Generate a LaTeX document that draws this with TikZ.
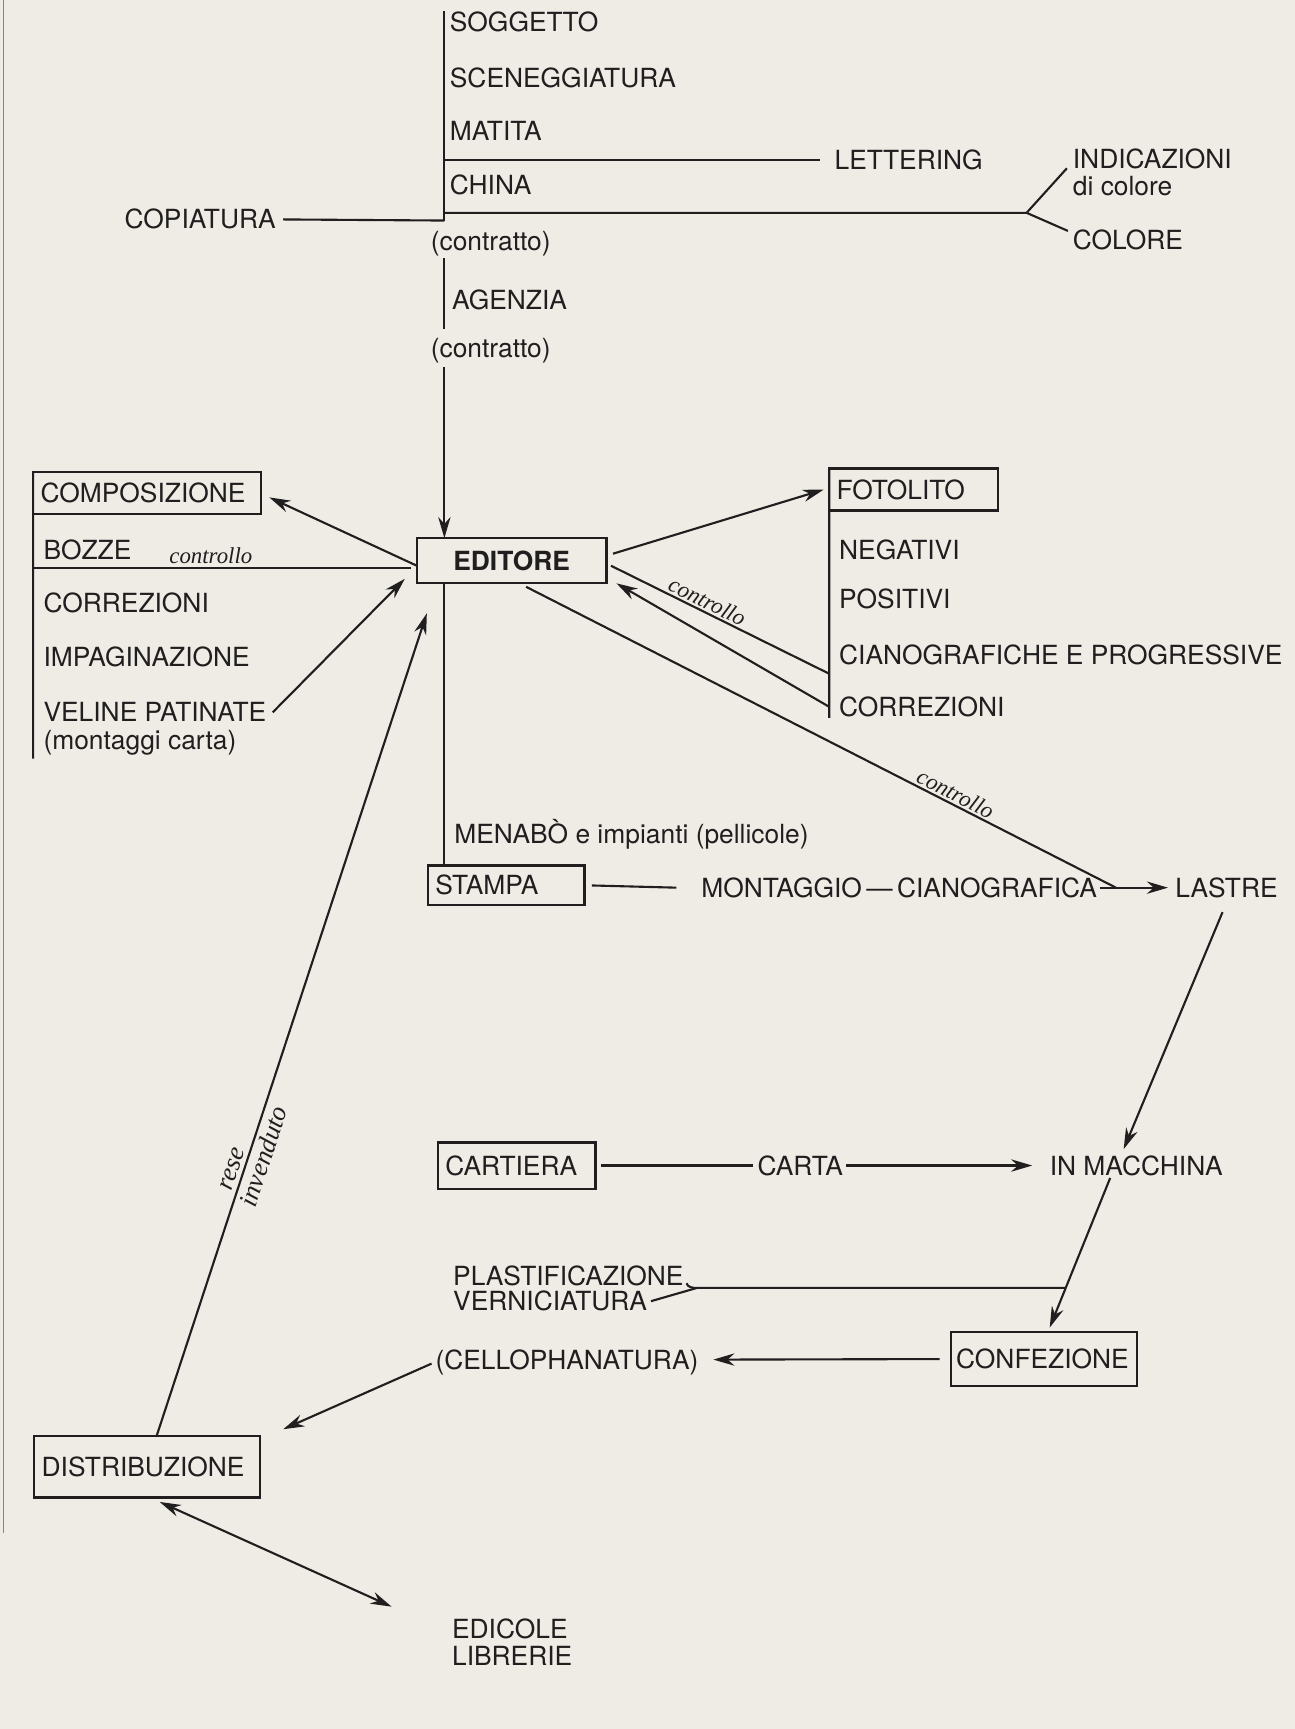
\documentclass[tikz,border=0pt]{standalone}
\usepackage{fontspec}
\setmainfont{TeX Gyre Heros}
\newfontfamily\handfont{Liberation Serif}
\usetikzlibrary{arrows.meta, calc}
\definecolor{paper}{RGB}{239,236,230}
\definecolor{ink}{RGB}{32,30,30}
\newcommand{\px}{0.022044cm}
\tikzset{
    every picture/.style = {
        > = {Stealth[length=12pt, width=7pt]},
        line width = 1.2pt,
        color = ink
    },
    every node/.style = {
        font = \fontsize{15}{18}\selectfont
    },
    lbl/.style = {
        inner sep = 0pt,
        outer sep = 0pt,
        anchor = west,
        text height = 10.77pt,
        text depth = 0pt
    },
    box/.style = {
        draw,
        line width = 1.3pt,
        inner xsep = 0.15cm,
        inner ysep = 0pt,
        outer sep = 0pt,
        align = left,
        text height = 10.77pt,
        text depth = 0pt
    },
    hand/.style = {
        font = \handfont\itshape\fontsize{13}{15}\selectfont,
        inner sep = 1pt
    },
    bighand/.style = {
        hand,
        font = \handfont\itshape\fontsize{15}{17}\selectfont
    }
}

\begin{document}
\begin{tikzpicture}[x=\px, y=-\px]
    \useasboundingbox (0,0) rectangle (1174,1568);
    \fill[paper] (0,0) rectangle (1174,1568);
    \draw[line width=0.5pt, ink!55] (3,0) -- (3,1390);

    % top column
    \foreach \name/\yy/\txt in {soggetto/20/SOGGETTO, sceneggiatura/71/SCENEGGIATURA,
                               matita/119/MATITA, china/168/CHINA} {
        \node[lbl] (\name) at (408,\yy) {\txt};
    }
    \node[lbl] (lettering) at (757,145) {LETTERING};
    \node[lbl] (indicazioni) at (973,144) {INDICAZIONI};
    \node[lbl] (dicolore) at (973,169) {di colore};
    \node[lbl] (colore) at (973,218) {COLORE};
    \node[lbl, anchor=east] (copiatura) at (250,199) {COPIATURA};
    \node[lbl, anchor=center] (contratto1) at (445,219) {(contratto)};
    \node[lbl] (agenzia) at (410,272) {AGENZIA};
    \node[lbl, anchor=center] (contratto2) at (445,316) {(contratto)};

    \coordinate (spine) at (403,10);
    \coordinate (spineA) at (403,200);
    \coordinate (spineB) at (403,234);
    \coordinate (spineC) at (403,298);
    \coordinate (spineD) at (403,333);
    \coordinate (fork) at (931,193);

    \node[box, align=center, text width=3.492cm, minimum height=0.904cm,
          font=\fontsize{15}{18}\selectfont\bfseries] (editore) at (464,508.5) {EDITORE};

    \draw (spine) -- (spineA);
    \draw (spineB) -- (spineC);
    \draw[->] (spineD) -- (spineD |- editore.north);
    \draw[shorten >=0.29cm] (spine |- lettering.west) -- (lettering.west);
    \draw (spine |- fork) -- (fork) -- ([xshift=-0.12cm]indicazioni.south west);
    \draw (fork) -- ([xshift=-0.1cm]colore.north west);
    \draw ([xshift=0.15cm]copiatura.east) -- (spineA);

    % left column
    \node[box, text width=4.263cm, minimum height=0.838cm] (composizione) at (133.5,447) {COMPOSIZIONE};
    \foreach \name/\yy/\txt in {bozze/499/BOZZE, correzioni/547/CORREZIONI,
                               impaginazione/596/IMPAGINAZIONE, veline/646/VELINE PATINATE,
                               montaggi/671/(montaggi carta)} {
        \node[lbl] (\name) at (39.5,\yy) {\txt};
    }
    \coordinate (bracketL) at (30,688);
    \coordinate (bozzeline) at (30,515);
    \coordinate (bozzeend) at (373,515);
    \draw (composizione.north west) -- (bracketL);
    \draw (bozzeline) -- node[hand, pos=0.47, above=1pt] (ctlbozze) {controllo} (bozzeend);
    \draw[->] ([yshift=-0.1cm]editore.west) -- ([shift={(0.16cm,-0.09cm)}]composizione.east);
    \draw[->] ([xshift=0.13cm]veline.east) -- ([shift={(-0.24cm,0.09cm)}]editore.south west);

    % fotolito
    \node[box, text width=3.073cm, minimum height=0.838cm] (fotolito) at (828.5,444) {FOTOLITO};
    \foreach \name/\yy/\txt in {negativi/499/NEGATIVI, positivi/543/POSITIVI,
                               ciano/594/CIANOGRAFICHE E PROGRESSIVE,
                               correzionifoto/641/CORREZIONI} {
        \node[lbl] (\name) at (761,\yy) {\txt};
    }
    \coordinate (brk) at (752,651);
    \coordinate (ctlend) at (752,611);
    \draw (fotolito.north west) -- (brk);
    \draw[->] ([shift={(0.13cm,0.14cm)}]editore.east) -- ([xshift=-0.11cm]fotolito.west);
    \draw ([shift={(0.09cm,-0.1cm)}]editore.east) -- node[hand, sloped, above, pos=0.42] (ctlfoto) {controllo} (ctlend);
    \draw[->] (brk |- correzionifoto.west) -- ([xshift=0.2cm]editore.south east);

    % stampa
    \node[lbl] (menabo) at (412,756) {MENABÒ e impianti (pellicole)};
    \node[box, text width=2.83cm, minimum height=0.794cm] (stampa) at (459,803) {STAMPA};
    \node[lbl] (montaggio) at (636,805) {MONTAGGIO\,—\,CIANOGRAFICA};
    \node[lbl] (lastre) at (1066,805) {LASTRE};
    \coordinate (mj) at (1012,805);
    \draw (editore.south -| spine) -- (stampa.north -| spine);
    \draw ([xshift=0.15cm]stampa.east) -- ([xshift=-0.5cm]montaggio.west);
    \draw[->] ([xshift=0.05cm]montaggio.east) -- ([xshift=-0.15cm]lastre.west);
    \draw ([shift={(0.29cm,-0.07cm)}]editore.south) -- node[hand, sloped, above, pos=0.72] (ctllastre) {controllo} (mj);

    % carta, macchina, confezione
    \node[box, text width=2.852cm, minimum height=0.926cm] (cartiera) at (468.5,1057) {CARTIERA};
    \node[lbl] (carta) at (687,1057) {CARTA};
    \node[lbl] (inmacchina) at (952,1057) {IN MACCHINA};
    \node[box, text width=3.5cm, inner xsep=0.11cm, minimum height=1.08cm] (confezione) at (946.5,1232.5) {CONFEZIONE};
    \node[lbl] (plastif) at (411,1157) {PLASTIFICAZIONE};
    \node[lbl] (vernic) at (411,1180) {VERNICIATURA};
    \node[lbl] (cello) at (395,1233) {(CELLOPHANATURA)};
    \draw[->] ([shift={(-0.08cm,-0.3cm)}]lastre.south) -- ([shift={(-0.25cm,0.14cm)}]inmacchina.north);
    \draw ([xshift=0.11cm]cartiera.east) -- ([xshift=-0.09cm]carta.west);
    \draw[->] ([xshift=0.07cm]carta.east) -- ([xshift=-0.35cm]inmacchina.west);
    \draw[->] ([shift={(-0.52cm,-0.06cm)}]inmacchina.south) -- coordinate[pos=0.735] (pj) ([shift={(0.12cm,0.09cm)}]confezione.north);
    \coordinate (pv) at (632,1168);
    \draw (pv) -- (pj);
    \draw ([shift={(0.06cm,0.04cm)}]plastif.south east) to[out=-70, in=180] (pv);
    \draw ([xshift=0.08cm]vernic.east) -- (pv);
    \draw[->] ([xshift=-0.22cm]confezione.west) -- ([xshift=0.3cm]cello.east);

    % distribuzione
    \node[box, text width=4.219cm, minimum height=1.234cm] (distribuzione) at (133.5,1330) {DISTRIBUZIONE};
    \node[lbl] (edicole) at (410,1477) {EDICOLE};
    \node[lbl] (librerie) at (410,1502) {LIBRERIE};
    \draw[->] ([xshift=-0.08cm, yshift=-0.08cm]cello.west) -- ([shift={(0.46cm,0.13cm)}]distribuzione.north east);
    \draw[<->] ([shift={(0.25cm,-0.09cm)}]distribuzione.south) -- ([shift={(-1.21cm,0.44cm)}]edicole.west);
    \draw[->] ([xshift=0.19cm]distribuzione.north) --
        node[bighand, sloped, above=1pt, pos=0.32] (rese) {rese}
        node[bighand, sloped, below=1pt, pos=0.345] (invenduto) {invenduto}
        ([shift={(0.2cm,-0.6cm)}]editore.south west);
\end{tikzpicture}
\end{document}
